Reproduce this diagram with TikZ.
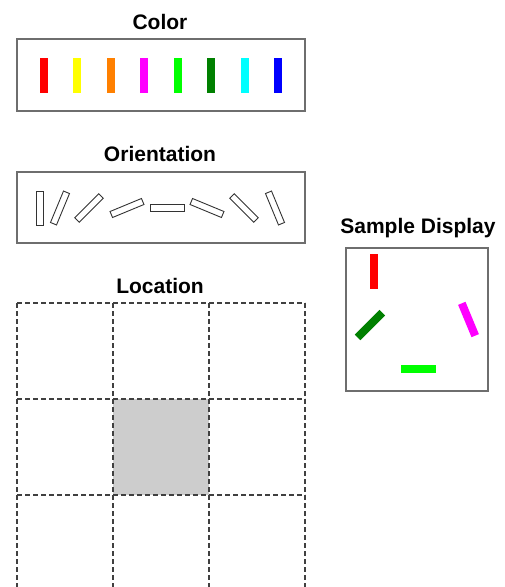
\documentclass[tikz,border=0pt]{standalone}
\usepackage{fontspec}
\setmainfont{Liberation Sans}
\definecolor{barred}{RGB}{255,0,0}
\definecolor{baryellow}{RGB}{255,255,0}
\definecolor{barorange}{RGB}{255,128,0}
\definecolor{barmagenta}{RGB}{255,0,255}
\definecolor{bargreen}{RGB}{0,255,0}
\definecolor{bardkgreen}{RGB}{0,128,0}
\definecolor{barcyan}{RGB}{0,255,255}
\definecolor{barblue}{RGB}{0,0,255}
\definecolor{framegray}{RGB}{110,110,110}
\definecolor{cellgray}{RGB}{205,205,205}
\tikzset{
  title/.style={font=\fontsize{21}{24}\selectfont\bfseries, anchor=base, inner sep=0pt},
  panel/.style={draw=framegray, line width=1.2pt},
  cbar/.style={rectangle, inner sep=0pt, minimum width=8pt, minimum height=35pt},
  obar/.style={rectangle, draw=black!80, line width=0.9pt, inner sep=0pt, minimum width=6.5pt, minimum height=34pt},
  gridline/.style={draw=black!75, line width=1.3pt, dash pattern=on 5pt off 3pt}
}
\begin{document}
\begin{tikzpicture}[x=1pt, y=-1pt]
\useasboundingbox (0,0) rectangle (504,587);
% color panel
\node[title] (colortitle) at (160,29) {Color};
\draw[panel] (17,39) rectangle (305,111);
\foreach \c [count=\i] in {barred,baryellow,barorange,barmagenta,bargreen,bardkgreen,barcyan,barblue}
  \node[cbar, fill=\c] (col\i) at ({43.5+33.5*(\i-1)},75.5) {};
% orientation panel
\node[title] (orititle) at (160,161) {Orientation};
\draw[panel] (17,172) rectangle (305,243);
\foreach \x/\a [count=\i] in {40/0, 60/-22.5, 89/-45, 127/-67.5, 167/-90, 207/-112.5, 244/-135, 275/-157.5}
  \node[obar, rotate=\a] (ori\i) at (\x,208) {};
% location panel
\node[title] (loctitle) at (160,293) {Location};
\fill[cellgray] (113,399) rectangle (209,495);
\clip (0,0) rectangle (504,587);
\foreach \k in {0,1,2,3} {
  \draw[gridline] ({17+96*\k},303) -- ({17+96*\k},591);
  \draw[gridline] (17,{303+96*\k}) -- (305,{303+96*\k});
}
% sample display
\node[title] (sampletitle) at (418,233) {Sample Display};
\draw[panel] (346,248) rectangle (488,391);
\node[cbar, fill=barred] (s1) at (373.5,271.5) {};
\node[cbar, fill=bardkgreen, rotate=-45] (s2) at (370,325) {};
\node[cbar, fill=barmagenta, rotate=22.5] (s3) at (468.5,319.5) {};
\node[cbar, fill=bargreen, rotate=90] (s4) at (418,368.5) {};
\end{tikzpicture}
\end{document}
